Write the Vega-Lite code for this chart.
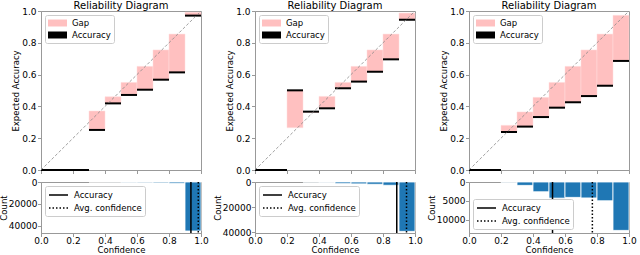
{
  "$schema": "https://vega.github.io/schema/vega-lite/v6.json",
  "padding": {"left": -2, "top": 0, "right": 0, "bottom": 0},
  "background": "white",
  "config": {
    "font": "DejaVu Sans",
    "view": {"stroke": "#999999", "strokeWidth": 1},
    "axis": {"grid": false, "labelFontSize": 9, "titleFontSize": 8.5, "titleFontWeight": "normal", "tickSize": 3.5, "tickColor": "#999999", "domainColor": "#999999", "labelColor": "#000000", "titleColor": "#000000", "labelPadding": 1.5, "titlePadding": 1, "labelFlush": false, "labelOverlap": false, "labelBound": false, "tickCount": 12},
    "title": {"fontSize": 10, "fontWeight": "normal", "offset": -4, "color": "#000000", "frame": "group"},
    "legend": {"labelFontSize": 8.5, "fillColor": "white", "strokeColor": "#cccccc", "cornerRadius": 2, "padding": 3, "offset": 4, "title": null, "rowPadding": 2, "labelOffset": 14, "symbolSize": 100}
  },
  "datasets": {
    "rel1": [
      {"lo": 0.0, "hi": 0.1, "acc": 0, "conf": 0},
      {"lo": 0.1, "hi": 0.2, "acc": 0, "conf": 0},
      {"lo": 0.2, "hi": 0.3, "acc": 0, "conf": 0},
      {"lo": 0.3, "hi": 0.4, "acc": 0.252, "conf": 0.371},
      {"lo": 0.4, "hi": 0.5, "acc": 0.419, "conf": 0.461},
      {"lo": 0.5, "hi": 0.6, "acc": 0.472, "conf": 0.551},
      {"lo": 0.6, "hi": 0.7, "acc": 0.505, "conf": 0.652},
      {"lo": 0.7, "hi": 0.8, "acc": 0.568, "conf": 0.755},
      {"lo": 0.8, "hi": 0.9, "acc": 0.614, "conf": 0.855},
      {"lo": 0.9, "hi": 1.0, "acc": 0.971, "conf": 0.992}
    ],
    "rel2": [
      {"lo": 0.0, "hi": 0.1, "acc": 0, "conf": 0},
      {"lo": 0.1, "hi": 0.2, "acc": 0, "conf": 0},
      {"lo": 0.2, "hi": 0.3, "acc": 0.501, "conf": 0.266},
      {"lo": 0.3, "hi": 0.4, "acc": 0.367, "conf": 0.362},
      {"lo": 0.4, "hi": 0.5, "acc": 0.388, "conf": 0.463},
      {"lo": 0.5, "hi": 0.6, "acc": 0.514, "conf": 0.551},
      {"lo": 0.6, "hi": 0.7, "acc": 0.556, "conf": 0.652},
      {"lo": 0.7, "hi": 0.8, "acc": 0.618, "conf": 0.755},
      {"lo": 0.8, "hi": 0.9, "acc": 0.696, "conf": 0.855},
      {"lo": 0.9, "hi": 1.0, "acc": 0.945, "conf": 0.987}
    ],
    "rel3": [
      {"lo": 0.0, "hi": 0.1, "acc": 0, "conf": 0},
      {"lo": 0.1, "hi": 0.2, "acc": 0, "conf": 0},
      {"lo": 0.2, "hi": 0.3, "acc": 0.239, "conf": 0.281},
      {"lo": 0.3, "hi": 0.4, "acc": 0.273, "conf": 0.365},
      {"lo": 0.4, "hi": 0.5, "acc": 0.333, "conf": 0.457},
      {"lo": 0.5, "hi": 0.6, "acc": 0.392, "conf": 0.551},
      {"lo": 0.6, "hi": 0.7, "acc": 0.426, "conf": 0.652},
      {"lo": 0.7, "hi": 0.8, "acc": 0.465, "conf": 0.755},
      {"lo": 0.8, "hi": 0.9, "acc": 0.530, "conf": 0.855},
      {"lo": 0.9, "hi": 1.0, "acc": 0.686, "conf": 0.973}
    ],
    "hist1": [
      {"lo": 0.3, "hi": 0.4, "count": 20},
      {"lo": 0.4, "hi": 0.5, "count": 40},
      {"lo": 0.5, "hi": 0.6, "count": 500},
      {"lo": 0.6, "hi": 0.7, "count": 600},
      {"lo": 0.7, "hi": 0.8, "count": 800},
      {"lo": 0.8, "hi": 0.9, "count": 1200},
      {"lo": 0.9, "hi": 1.0, "count": 44850}
    ],
    "hist2": [
      {"lo": 0.3, "hi": 0.4, "count": 100},
      {"lo": 0.4, "hi": 0.5, "count": 400},
      {"lo": 0.5, "hi": 0.6, "count": 1300},
      {"lo": 0.6, "hi": 0.7, "count": 1500},
      {"lo": 0.7, "hi": 0.8, "count": 1800},
      {"lo": 0.8, "hi": 0.9, "count": 2600},
      {"lo": 0.9, "hi": 1.0, "count": 39200}
    ],
    "hist3": [
      {"lo": 0.2, "hi": 0.3, "count": 100},
      {"lo": 0.3, "hi": 0.4, "count": 900},
      {"lo": 0.4, "hi": 0.5, "count": 2600},
      {"lo": 0.5, "hi": 0.6, "count": 4300},
      {"lo": 0.6, "hi": 0.7, "count": 4100},
      {"lo": 0.7, "hi": 0.8, "count": 4250},
      {"lo": 0.8, "hi": 0.9, "count": 5000},
      {"lo": 0.9, "hi": 1.0, "count": 12900}
    ],
    "lines1": [{"kind": "Accuracy", "value": 0.937}, {"kind": "Avg. confidence", "value": 0.983}],
    "lines2": [{"kind": "Accuracy", "value": 0.886}, {"kind": "Avg. confidence", "value": 0.947}],
    "lines3": [{"kind": "Accuracy", "value": 0.522}, {"kind": "Avg. confidence", "value": 0.771}],
    "diag": [{"x": 0, "y": 0}, {"x": 1, "y": 1}]
  },
  "hconcat": [
    {
      "vconcat": [
        {
          "width": 160, "height": 159,
          "title": "Reliability Diagram",
          "layer": [
            {"data": {"name": "rel1"}, "mark": {"type": "rect", "stroke": "#ffdede", "strokeWidth": 0.5},
             "encoding": {
               "x": {"field": "lo", "type": "quantitative", "scale": {"domain": [0, 1], "nice": false}, "axis": {"values": [0, 0.2, 0.4, 0.6, 0.8, 1.0], "tickCount": 12, "labels": false, "title": null}},
               "x2": {"field": "hi"},
               "y": {"field": "acc", "type": "quantitative", "scale": {"domain": [0, 1], "nice": false}, "axis": {"values": [0, 0.2, 0.4, 0.6, 0.8, 1.0], "tickCount": 12, "format": ".1f", "title": "Expected Accuracy"}},
               "y2": {"field": "conf"},
               "color": {"datum": "Gap", "type": "nominal", "scale": {"domain": ["Gap", "Accuracy"], "range": ["#ffc0c0", "#000000"]}, "legend": {"orient": "top-left", "symbolType": "M-1,-0.7L2.8,-0.7L2.8,0.7L-1,0.7Z", "symbolStrokeWidth": 0}}
             }},
            {"data": {"name": "rel1"}, "mark": {"type": "rule", "strokeWidth": 2},
             "encoding": {
               "x": {"field": "lo", "type": "quantitative"},
               "x2": {"field": "hi"},
               "y": {"field": "acc", "type": "quantitative"},
               "color": {"datum": "Accuracy", "type": "nominal"}
             }},
            {"data": {"name": "diag"}, "mark": {"type": "line", "color": "#888888", "strokeDash": [3, 2], "strokeWidth": 0.8},
             "encoding": {"x": {"field": "x", "type": "quantitative"}, "y": {"field": "y", "type": "quantitative"}}}
          ]
        },
        {
          "width": 160, "height": 51,
          "layer": [
            {"data": {"name": "hist1"}, "mark": {"type": "bar", "color": "#1f77b4", "stroke": "white", "strokeWidth": 0.8},
             "encoding": {
               "x": {"field": "lo", "type": "quantitative", "scale": {"domain": [0, 1], "nice": false}, "axis": {"values": [0, 0.2, 0.4, 0.6, 0.8, 1.0], "tickCount": 12, "format": ".1f", "title": "Confidence", "labelPadding": 0, "titlePadding": 0}},
               "x2": {"field": "hi"},
               "y": {"field": "count", "type": "quantitative", "scale": {"domain": [0, 46700], "nice": false, "reverse": true}, "axis": {"values": [0, 20000, 40000], "tickCount": 12, "format": "d", "title": "Count", "titlePadding": 0, "labelPadding": 0.5}},
               "y2": {"datum": 0}
             }},
            {"data": {"name": "lines1"}, "mark": {"type": "rule", "color": "#000000", "strokeWidth": 1.5},
             "encoding": {
               "x": {"field": "value", "type": "quantitative"},
               "strokeDash": {"field": "kind", "type": "nominal", "scale": {"domain": ["Accuracy", "Avg. confidence"], "range": [[1, 0], [1.5, 2]]}, "legend": {"orient": "top-left", "symbolType": "M-1,0L2.8,0", "symbolStrokeColor": "#000000", "symbolStrokeWidth": 1.5}}
             }}
          ]
        }
      ],
      "spacing": 12, "bounds": "flush",
      "resolve": {"scale": {"x": "independent", "y": "independent", "color": "independent", "strokeDash": "independent"}}
    },
    {
      "vconcat": [
        {
          "width": 160, "height": 159,
          "title": "Reliability Diagram",
          "layer": [
            {"data": {"name": "rel2"}, "mark": {"type": "rect", "stroke": "#ffdede", "strokeWidth": 0.5},
             "encoding": {
               "x": {"field": "lo", "type": "quantitative", "scale": {"domain": [0, 1], "nice": false}, "axis": {"values": [0, 0.2, 0.4, 0.6, 0.8, 1.0], "tickCount": 12, "labels": false, "title": null}},
               "x2": {"field": "hi"},
               "y": {"field": "acc", "type": "quantitative", "scale": {"domain": [0, 1], "nice": false}, "axis": {"values": [0, 0.2, 0.4, 0.6, 0.8, 1.0], "tickCount": 12, "format": ".1f", "title": "Expected Accuracy"}},
               "y2": {"field": "conf"},
               "color": {"datum": "Gap", "type": "nominal", "scale": {"domain": ["Gap", "Accuracy"], "range": ["#ffc0c0", "#000000"]}, "legend": {"orient": "top-left", "symbolType": "M-1,-0.7L2.8,-0.7L2.8,0.7L-1,0.7Z", "symbolStrokeWidth": 0}}
             }},
            {"data": {"name": "rel2"}, "mark": {"type": "rule", "strokeWidth": 2},
             "encoding": {
               "x": {"field": "lo", "type": "quantitative"},
               "x2": {"field": "hi"},
               "y": {"field": "acc", "type": "quantitative"},
               "color": {"datum": "Accuracy", "type": "nominal"}
             }},
            {"data": {"name": "diag"}, "mark": {"type": "line", "color": "#888888", "strokeDash": [3, 2], "strokeWidth": 0.8},
             "encoding": {"x": {"field": "x", "type": "quantitative"}, "y": {"field": "y", "type": "quantitative"}}}
          ]
        },
        {
          "width": 160, "height": 51,
          "layer": [
            {"data": {"name": "hist2"}, "mark": {"type": "bar", "color": "#1f77b4", "stroke": "white", "strokeWidth": 0.8},
             "encoding": {
               "x": {"field": "lo", "type": "quantitative", "scale": {"domain": [0, 1], "nice": false}, "axis": {"values": [0, 0.2, 0.4, 0.6, 0.8, 1.0], "tickCount": 12, "format": ".1f", "title": "Confidence", "labelPadding": 0, "titlePadding": 0}},
               "x2": {"field": "hi"},
               "y": {"field": "count", "type": "quantitative", "scale": {"domain": [0, 40500], "nice": false, "reverse": true}, "axis": {"values": [0, 20000, 40000], "tickCount": 12, "format": "d", "title": "Count", "titlePadding": 0, "labelPadding": 0.5}},
               "y2": {"datum": 0}
             }},
            {"data": {"name": "lines2"}, "mark": {"type": "rule", "color": "#000000", "strokeWidth": 1.5},
             "encoding": {
               "x": {"field": "value", "type": "quantitative"},
               "strokeDash": {"field": "kind", "type": "nominal", "scale": {"domain": ["Accuracy", "Avg. confidence"], "range": [[1, 0], [1.5, 2]]}, "legend": {"orient": "top-left", "symbolType": "M-1,0L2.8,0", "symbolStrokeColor": "#000000", "symbolStrokeWidth": 1.5}}
             }}
          ]
        }
      ],
      "spacing": 12, "bounds": "flush",
      "resolve": {"scale": {"x": "independent", "y": "independent", "color": "independent", "strokeDash": "independent"}}
    },
    {
      "vconcat": [
        {
          "width": 160, "height": 159,
          "title": "Reliability Diagram",
          "layer": [
            {"data": {"name": "rel3"}, "mark": {"type": "rect", "stroke": "#ffdede", "strokeWidth": 0.5},
             "encoding": {
               "x": {"field": "lo", "type": "quantitative", "scale": {"domain": [0, 1], "nice": false}, "axis": {"values": [0, 0.2, 0.4, 0.6, 0.8, 1.0], "tickCount": 12, "labels": false, "title": null}},
               "x2": {"field": "hi"},
               "y": {"field": "acc", "type": "quantitative", "scale": {"domain": [0, 1], "nice": false}, "axis": {"values": [0, 0.2, 0.4, 0.6, 0.8, 1.0], "tickCount": 12, "format": ".1f", "title": "Expected Accuracy"}},
               "y2": {"field": "conf"},
               "color": {"datum": "Gap", "type": "nominal", "scale": {"domain": ["Gap", "Accuracy"], "range": ["#ffc0c0", "#000000"]}, "legend": {"orient": "top-left", "symbolType": "M-1,-0.7L2.8,-0.7L2.8,0.7L-1,0.7Z", "symbolStrokeWidth": 0}}
             }},
            {"data": {"name": "rel3"}, "mark": {"type": "rule", "strokeWidth": 2},
             "encoding": {
               "x": {"field": "lo", "type": "quantitative"},
               "x2": {"field": "hi"},
               "y": {"field": "acc", "type": "quantitative"},
               "color": {"datum": "Accuracy", "type": "nominal"}
             }},
            {"data": {"name": "diag"}, "mark": {"type": "line", "color": "#888888", "strokeDash": [3, 2], "strokeWidth": 0.8},
             "encoding": {"x": {"field": "x", "type": "quantitative"}, "y": {"field": "y", "type": "quantitative"}}}
          ]
        },
        {
          "width": 160, "height": 51,
          "layer": [
            {"data": {"name": "hist3"}, "mark": {"type": "bar", "color": "#1f77b4", "stroke": "white", "strokeWidth": 0.8},
             "encoding": {
               "x": {"field": "lo", "type": "quantitative", "scale": {"domain": [0, 1], "nice": false}, "axis": {"values": [0, 0.2, 0.4, 0.6, 0.8, 1.0], "tickCount": 12, "format": ".1f", "title": "Confidence", "labelPadding": 0, "titlePadding": 0}},
               "x2": {"field": "hi"},
               "y": {"field": "count", "type": "quantitative", "scale": {"domain": [0, 13600], "nice": false, "reverse": true}, "axis": {"values": [0, 5000, 10000], "tickCount": 12, "format": "d", "title": "Count", "titlePadding": 0, "labelPadding": 0.5}},
               "y2": {"datum": 0}
             }},
            {"data": {"name": "lines3"}, "mark": {"type": "rule", "color": "#000000", "strokeWidth": 1.5},
             "encoding": {
               "x": {"field": "value", "type": "quantitative"},
               "strokeDash": {"field": "kind", "type": "nominal", "scale": {"domain": ["Accuracy", "Avg. confidence"], "range": [[1, 0], [1.5, 2]]}, "legend": {"orient": "bottom-left", "symbolType": "M-1,0L2.8,0", "symbolStrokeColor": "#000000", "symbolStrokeWidth": 1.5}}
             }}
          ]
        }
      ],
      "spacing": 12, "bounds": "flush",
      "resolve": {"scale": {"x": "independent", "y": "independent", "color": "independent", "strokeDash": "independent"}}
    }
  ],
  "spacing": 3,
  "resolve": {"scale": {"x": "independent", "y": "independent", "color": "independent", "strokeDash": "independent"}}
}
